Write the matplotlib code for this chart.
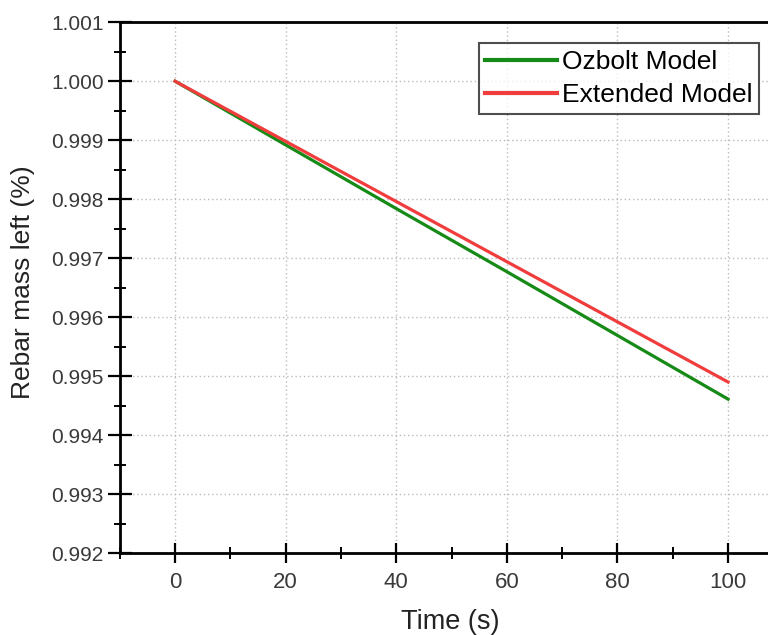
import matplotlib.pyplot as plt
from matplotlib.ticker import MultipleLocator

plt.rcParams['font.family'] = ['Liberation Sans', 'DejaVu Sans']

time_s = [0, 20, 40, 60, 80, 100]
ozbolt = [1.0, 0.99892, 0.99784, 0.99677, 0.99569, 0.99461]
extended = [1.0, 0.99898, 0.99796, 0.99694, 0.99592, 0.99490]

fig = plt.figure(figsize=(7.68, 6.35), dpi=100)
ax = fig.add_axes([0.156, 0.129, 0.864, 0.836])

ax.plot(time_s, ozbolt, color='#168a16', lw=2.3, label='Ozbolt Model')
ax.plot(time_s, extended, color='#f03c3c', lw=2.3, label='Extended Model')

ax.set_xlim(-10, 110)
ax.set_ylim(0.992, 1.001)
ax.xaxis.set_major_locator(MultipleLocator(20))
ax.xaxis.set_minor_locator(MultipleLocator(10))
ax.yaxis.set_major_locator(MultipleLocator(0.001))
ax.yaxis.set_minor_locator(MultipleLocator(0.0005))
ax.yaxis.set_major_formatter(lambda v, pos: f'{v:.3f}')

ax.tick_params(axis='y', which='major', direction='inout', length=17, width=1.6,
               labelsize=15, labelcolor='#3a3a3a', pad=3)
ax.tick_params(axis='y', which='minor', direction='inout', length=9, width=1.4)
ax.tick_params(axis='x', which='major', direction='inout', length=15, width=1.6,
               labelsize=16, labelcolor='#3a3a3a', pad=6)
ax.tick_params(axis='x', which='minor', direction='inout', length=8, width=1.4)

for side in ['left', 'bottom', 'top']:
    ax.spines[side].set_linewidth(2)
ax.spines['right'].set_visible(False)

ax.grid(True, which='major', color='#bbbbbb', linestyle=(0, (1, 2)), lw=1)

ax.set_xlabel('Time (s)', fontsize=19.5, color='#222222')
ax.set_ylabel('Rebar mass left (%)', fontsize=19, color='#222222')
ax.xaxis.set_label_coords(0.498, -0.105)
ax.yaxis.set_label_coords(-0.128, 0.51)

leg = ax.legend(loc='upper left', bbox_to_anchor=(0.541, 0.960), fontsize=19,
                frameon=True, fancybox=False, handlelength=2.7, handletextpad=0.2,
                borderpad=0.25, labelspacing=0.35, borderaxespad=0)
leg.get_frame().set_edgecolor('#222222')
leg.get_frame().set_linewidth(1.5)
for line in leg.get_lines():
    line.set_linewidth(3)

fig.savefig('out.png', dpi=100)
plt.close(fig)
